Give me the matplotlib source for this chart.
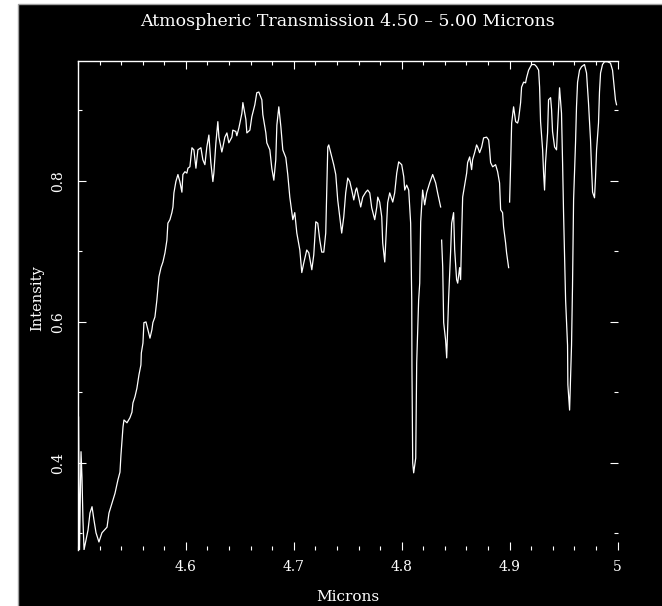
import numpy as np
import matplotlib
matplotlib.use("Agg")
import matplotlib.pyplot as plt
from matplotlib.patches import Rectangle
from matplotlib.ticker import FixedLocator, FixedFormatter, MultipleLocator

# wavelength (microns) and transmitted intensity; NaN marks gaps in the record
wavelength = [
    4.5005, 4.5014, 4.5028, 4.5037, 4.5046, 4.5056, 4.5074, 4.5093, 4.5111, 4.5130,
    4.5148, 4.5167, 4.5194, 4.5222, 4.5269, 4.5287, 4.5315, 4.5343, 4.5370, 4.5389,
    4.5398, 4.5407, 4.5417, 4.5426, 4.5454, 4.5481, 4.5500, 4.5509, 4.5528, 4.5546,
    4.5565, 4.5583, 4.5587, 4.5602, 4.5611, 4.5630, 4.5648, 4.5667, 4.5685, 4.5694,
    4.5713, 4.5731, 4.5750, 4.5769, 4.5787, 4.5806, 4.5824, 4.5833, 4.5852, 4.5870,
    4.5880, 4.5889, 4.5907, 4.5926, 4.5944, 4.5963, 4.5972, 4.5991, 4.6009, 4.6019,
    4.6037, 4.6056, 4.6074, 4.6093, 4.6111, 4.6139, 4.6157, 4.6176, 4.6194, 4.6213,
    4.6231, 4.6250, 4.6259, 4.6278, 4.6296, 4.6306, 4.6333, 4.6343, 4.6361, 4.6380,
    4.6398, 4.6426, 4.6435, 4.6463, 4.6472, 4.6491, 4.6519, 4.6528, 4.6556, 4.6565,
    4.6593, 4.6611, 4.6639, 4.6657, 4.6676, 4.6704, 4.6713, 4.6741, 4.6750, 4.6778,
    4.6796, 4.6815, 4.6833, 4.6843, 4.6861, 4.6880, 4.6898, 4.6926, 4.6944, 4.6963,
    4.6991, 4.7009, 4.7028, 4.7056, 4.7074, 4.7093, 4.7120, 4.7139, 4.7167, 4.7185,
    4.7204, 4.7222, 4.7241, 4.7259, 4.7278, 4.7296, 4.7306, 4.7315, 4.7324, 4.7352,
    4.7370, 4.7389, 4.7398, 4.7407, 4.7426, 4.7444, 4.7463, 4.7481, 4.7500, 4.7519,
    4.7537, 4.7556, 4.7574, 4.7583, 4.7602, 4.7620, 4.7639, 4.7667, 4.7685, 4.7704,
    4.7722, 4.7750, 4.7769, 4.7778, 4.7796, 4.7815, 4.7824, 4.7843, 4.7861, 4.7870,
    4.7889, 4.7917, 4.7935, 4.7954, 4.7972, 4.8000, 4.8019, 4.8028, 4.8046, 4.8065,
    4.8083, 4.8093, 4.8095, 4.8102, 4.8111, 4.8130, 4.8139, 4.8157, 4.8167, 4.8176,
    4.8194, 4.8213, 4.8231, 4.8259, 4.8287, 4.8315, 4.8333, 4.8361, 4.8366, 4.8370,
    4.8380, 4.8389, 4.8407, 4.8417, 4.8426, 4.8435, 4.8454, 4.8463, 4.8481, 4.8491,
    4.8509, 4.8519, 4.8537, 4.8546, 4.8556, 4.8565, 4.8583, 4.8602, 4.8611, 4.8630,
    4.8648, 4.8657, 4.8676, 4.8694, 4.8704, 4.8722, 4.8741, 4.8759, 4.8787, 4.8806,
    4.8815, 4.8824, 4.8843, 4.8870, 4.8889, 4.8907, 4.8917, 4.8935, 4.8944, 4.8963,
    4.8972, 4.8991, 4.8996, 4.9000, 4.9009, 4.9019, 4.9037, 4.9056, 4.9074, 4.9083,
    4.9102, 4.9111, 4.9130, 4.9148, 4.9157, 4.9176, 4.9204, 4.9231, 4.9250, 4.9269,
    4.9278, 4.9287, 4.9306, 4.9315, 4.9324, 4.9333, 4.9352, 4.9361, 4.9380, 4.9389,
    4.9398, 4.9417, 4.9435, 4.9444, 4.9454, 4.9463, 4.9481, 4.9491, 4.9500, 4.9519,
    4.9537, 4.9540, 4.9556, 4.9574, 4.9583, 4.9593, 4.9611, 4.9620, 4.9630, 4.9648,
    4.9667, 4.9694, 4.9713, 4.9722, 4.9731, 4.9750, 4.9759, 4.9769, 4.9787, 4.9796,
    4.9806, 4.9824, 4.9833, 4.9843, 4.9861, 4.9880, 4.9907, 4.9935, 4.9954, 4.9963,
    4.9981, 4.9991,
]
intensity = [
    0.465, 0.277, 0.416, 0.379, 0.319, 0.277, 0.291, 0.305, 0.329, 0.338,
    0.319, 0.301, 0.288, 0.301, 0.309, 0.329, 0.343, 0.357, 0.376, 0.387,
    0.411, 0.430, 0.451, 0.461, 0.457, 0.464, 0.472, 0.485, 0.494, 0.506,
    0.525, 0.539, 0.556, 0.570, 0.599, 0.600, 0.589, 0.577, 0.589, 0.599,
    0.607, 0.631, 0.664, 0.677, 0.685, 0.698, 0.716, 0.740, 0.745, 0.755,
    0.763, 0.783, 0.799, 0.809, 0.799, 0.784, 0.809, 0.813, 0.811, 0.818,
    0.820, 0.847, 0.844, 0.818, 0.844, 0.847, 0.830, 0.823, 0.848, 0.865,
    0.826, 0.799, 0.811, 0.854, 0.884, 0.862, 0.841, 0.848, 0.862, 0.868,
    0.854, 0.862, 0.872, 0.870, 0.864, 0.875, 0.896, 0.911, 0.887, 0.868,
    0.872, 0.891, 0.908, 0.925, 0.926, 0.915, 0.894, 0.868, 0.854, 0.844,
    0.818, 0.801, 0.830, 0.879, 0.905, 0.877, 0.844, 0.833, 0.809, 0.777,
    0.745, 0.755, 0.726, 0.702, 0.670, 0.684, 0.702, 0.698, 0.674, 0.695,
    0.742, 0.740, 0.716, 0.699, 0.699, 0.726, 0.790, 0.848, 0.851, 0.834,
    0.823, 0.809, 0.791, 0.773, 0.749, 0.726, 0.749, 0.783, 0.804, 0.799,
    0.787, 0.773, 0.787, 0.790, 0.776, 0.763, 0.777, 0.784, 0.787, 0.783,
    0.762, 0.745, 0.763, 0.777, 0.770, 0.749, 0.712, 0.685, 0.740, 0.769,
    0.783, 0.770, 0.783, 0.811, 0.827, 0.823, 0.806, 0.787, 0.794, 0.787,
    0.740, 0.631, 0.535, 0.400, 0.386, 0.407, 0.542, 0.631, 0.655, 0.742,
    0.787, 0.766, 0.783, 0.797, 0.809, 0.797, 0.783, 0.763, np.nan, 0.716,
    0.678, 0.599, 0.574, 0.549, 0.593, 0.634, 0.702, 0.740, 0.755, 0.702,
    0.660, 0.655, 0.677, 0.660, 0.726, 0.777, 0.794, 0.811, 0.826, 0.834,
    0.816, 0.830, 0.840, 0.851, 0.848, 0.840, 0.848, 0.861, 0.862, 0.858,
    0.844, 0.826, 0.820, 0.823, 0.813, 0.797, 0.759, 0.755, 0.735, 0.712,
    0.698, 0.677, np.nan, 0.770, 0.820, 0.882, 0.905, 0.884, 0.882, 0.887,
    0.911, 0.933, 0.940, 0.939, 0.946, 0.957, 0.965, 0.965, 0.962, 0.957,
    0.933, 0.884, 0.844, 0.811, 0.787, 0.826, 0.868, 0.915, 0.918, 0.901,
    0.870, 0.848, 0.844, 0.872, 0.901, 0.932, 0.896, 0.826, 0.755, 0.631,
    0.567, 0.511, 0.475, 0.567, 0.650, 0.773, 0.854, 0.905, 0.940, 0.957,
    0.962, 0.965, 0.953, 0.933, 0.911, 0.858, 0.820, 0.784, 0.776, 0.804,
    0.844, 0.882, 0.926, 0.953, 0.965, 0.969, 0.969, 0.967, 0.957, 0.943,
    0.915, 0.908,
]

x_major = [4.6, 4.7, 4.8, 4.9, 5.0]
x_labels = ["4.6", "4.7", "4.8", "4.9", "5"]
y_major = [0.4, 0.6, 0.8]
y_labels = ["0.4", "0.6", "0.8"]

plt.rcParams.update({
    "font.family": "DejaVu Serif",
    "font.size": 10,
    "text.color": "white",
})

fig = plt.figure(figsize=(6.62, 6.06), dpi=100, facecolor="white")

# black plotting surface with thin grey border on top/left, kept behind the axes
fig.add_artist(Rectangle((18 / 662, -0.01), 1.0, 1.0034, transform=fig.transFigure,
                         facecolor="black", edgecolor="#a0a0a0", linewidth=1.0,
                         zorder=-10))

ax = fig.add_axes([78 / 662, 56 / 606, 539.5 / 662, 489 / 606])
ax.set_facecolor("black")

ax.plot(wavelength, intensity, color="white", linewidth=0.9)

ax.set_xlim(4.5, 5.0)
ax.set_ylim(0.2766, 0.970)

ax.xaxis.set_major_locator(FixedLocator(x_major))
ax.xaxis.set_major_formatter(FixedFormatter(x_labels))
ax.xaxis.set_minor_locator(MultipleLocator(0.02))
ax.yaxis.set_major_locator(FixedLocator(y_major))
ax.yaxis.set_major_formatter(FixedFormatter(y_labels))
ax.yaxis.set_minor_locator(MultipleLocator(0.1))

ax.tick_params(which="both", direction="in", color="white", labelcolor="white",
               top=True, right=True, width=0.8)
ax.tick_params(which="major", length=6)
ax.tick_params(which="minor", length=3)
ax.tick_params(axis="x", which="major", pad=7)
ax.tick_params(axis="y", which="major", pad=9)
for lab in ax.get_yticklabels():
    lab.set_rotation(90)
    lab.set_va("center")

for side in ("left", "top"):
    ax.spines[side].set_color("white")
    ax.spines[side].set_linewidth(1.0)
for side in ("right", "bottom"):
    ax.spines[side].set_visible(False)

ax.set_xlabel("Microns", color="white", fontsize=11)
ax.xaxis.set_label_coords(0.5, -0.082)
ax.set_ylabel("Intensity", color="white", fontsize=10.5)
ax.yaxis.set_label_coords(-0.063, 0.515)

ax.text(0.5, 1.0798, "Atmospheric Transmission 4.50 \u2013 5.00 Microns",
        transform=ax.transAxes, ha="center", va="center", color="white",
        fontsize=12.5)

fig.savefig("out.png", dpi=100, facecolor="white")
